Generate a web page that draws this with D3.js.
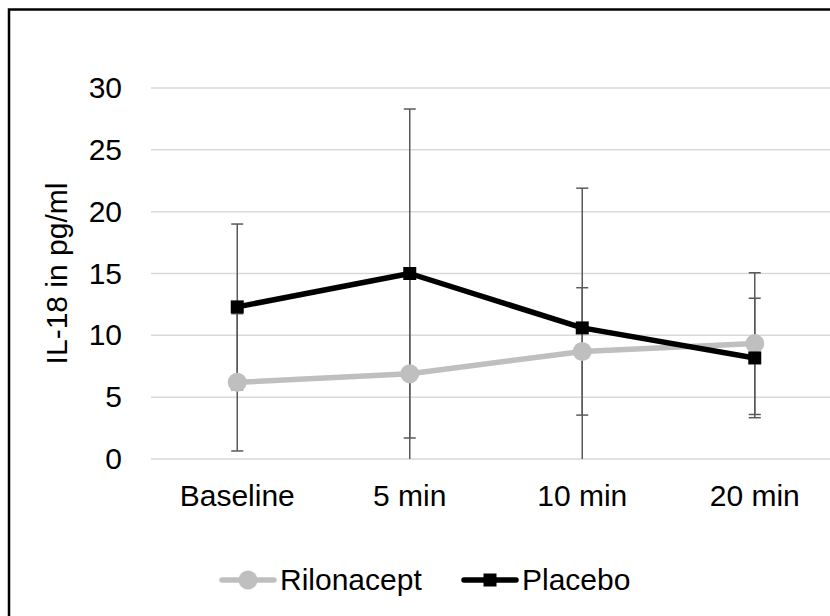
<!DOCTYPE html>
<html>
<head>
<meta charset="utf-8">
<script src="https://cdn.jsdelivr.net/npm/d3@7"></script>
<style>
  body { margin: 0; background: #fff; }
  svg text { font-family: "Liberation Sans", Arial, sans-serif; fill: #000; }
</style>
</head>
<body>
<div id="chart"></div>
<script>
// categories on the x axis
var timepoints = ["Baseline", "5 min", "10 min", "20 min"];
var yTicks = [0, 5, 10, 15, 20, 25, 30];

// series means and error bar half widths (pg/ml)
var rilonacept = [6.2, 6.9, 8.7, 9.33];
var rilonaceptErr = [5.55, 8.0, 5.15, 5.73];
var placebo = [12.3, 15.0, 10.6, 8.17];
var placeboErr = [6.7, 13.3, 11.3, 4.83];

var fontSize = "30px";

var svg = d3.select("#chart")
    .append("svg")
    .attr("width", 830)
    .attr("height", 616);

// outer frame, runs off the right and bottom edges like the original
svg.append("rect")
    .attr("x", 9).attr("y", 9.5)
    .attr("width", 840).attr("height", 620)
    .attr("fill", "none")
    .attr("stroke", "#000")
    .attr("stroke-width", 2.5);

var plot = {left: 151, right: 841, top: 88, bottom: 459};

var x = d3.scaleBand()
    .domain(timepoints)
    .range([plot.left, plot.right]);

var y = d3.scaleLinear()
    .domain([0, 30])
    .range([plot.bottom, plot.top]);

// gridlines
svg.append("g")
    .selectAll("line")
    .data(yTicks)
    .enter().append("line")
    .attr("x1", plot.left).attr("x2", plot.right)
    .attr("y1", function (d) { return y(d); })
    .attr("y2", function (d) { return y(d); })
    .attr("stroke", "#d9d9d9")
    .attr("stroke-width", 1.5);

// y axis labels
var yAxis = svg.append("g")
    .attr("transform", "translate(" + 133 + ",0)")
    .call(d3.axisLeft(y).tickValues(yTicks).tickSize(0).tickPadding(11));
yAxis.select(".domain").remove();
yAxis.selectAll("text")
    .style("font-size", fontSize)
    .attr("fill", "#000");

// x axis labels
var xAxis = svg.append("g")
    .attr("transform", "translate(0," + plot.bottom + ")")
    .call(d3.axisBottom(x).tickSize(0).tickPadding(26));
xAxis.select(".domain").remove();
xAxis.selectAll("text")
    .style("font-size", fontSize)
    .attr("fill", "#000");

// y axis title
svg.append("text")
    .attr("transform", "translate(67," + ((plot.top + plot.bottom) / 2) + ") rotate(-90)")
    .attr("text-anchor", "middle")
    .style("font-size", fontSize)
    .text("IL-18 in pg/ml");

var series = [
    {name: "Rilonacept", values: rilonacept, err: rilonaceptErr, color: "#bfbfbf", marker: "circle"},
    {name: "Placebo", values: placebo, err: placeboErr, color: "#000000", marker: "square"}
];

function cx(i) { return x(timepoints[i]) + x.bandwidth() / 2; }

// error bars, clipped at the axis floor
var capHalf = 6;
series.forEach(function (s) {
    var g = svg.append("g").attr("stroke", "#595959").attr("stroke-width", 1.5);
    s.values.forEach(function (v, i) {
        var hi = v + s.err[i], lo = v - s.err[i];
        var xc = cx(i);
        g.append("line")
            .attr("x1", xc).attr("x2", xc)
            .attr("y1", y(hi)).attr("y2", y(Math.max(lo, 0)));
        g.append("line")
            .attr("x1", xc - capHalf).attr("x2", xc + capHalf)
            .attr("y1", y(hi)).attr("y2", y(hi));
        if (lo >= 0) {
            g.append("line")
                .attr("x1", xc - capHalf).attr("x2", xc + capHalf)
                .attr("y1", y(lo)).attr("y2", y(lo));
        }
    });
});

var line = d3.line()
    .x(function (d, i) { return cx(i); })
    .y(function (d) { return y(d); });

function drawMarker(g, mx, my, s) {
    if (s.marker === "circle") {
        g.append("circle").attr("cx", mx).attr("cy", my).attr("r", 9.5).attr("fill", s.color);
    } else {
        g.append("rect").attr("x", mx - 6.5).attr("y", my - 6.5)
            .attr("width", 13).attr("height", 13).attr("fill", s.color);
    }
}

series.forEach(function (s) {
    var g = svg.append("g");
    g.append("path")
        .attr("d", line(s.values))
        .attr("fill", "none")
        .attr("stroke", s.color)
        .attr("stroke-width", 5.5)
        .attr("stroke-linejoin", "round");
    s.values.forEach(function (v, i) {
        drawMarker(g, cx(i), y(v), s);
    });
});

// legend
var legendPos = [220, 462];
series.forEach(function (s, k) {
    var lx = legendPos[k], ly = 580;
    var g = svg.append("g");
    g.append("line")
        .attr("x1", lx + 2).attr("x2", lx + 54)
        .attr("y1", ly).attr("y2", ly)
        .attr("stroke", s.color)
        .attr("stroke-width", 5.5)
        .attr("stroke-linecap", "round");
    drawMarker(g, lx + 28, ly, s);
    g.append("text")
        .attr("x", lx + 60)
        .attr("y", ly + 10)
        .style("font-size", fontSize)
        .text(s.name);
});
</script>
</body>
</html>
